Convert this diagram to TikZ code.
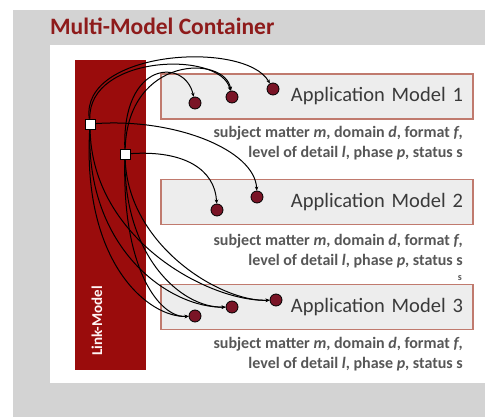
\documentclass[tikz,border=0pt]{standalone}
\usepackage{fontspec}
\setmainfont{Carlito}
\usetikzlibrary{arrows.meta}

\definecolor{framegrey}{HTML}{D3D3D3}
\definecolor{titlered}{HTML}{8E1B1B}
\definecolor{linkred}{HTML}{9A0C0C}
\definecolor{boxline}{HTML}{C07A6E}
\definecolor{boxfill}{HTML}{EDEDED}
\definecolor{dotred}{HTML}{7A1426}
\definecolor{desctext}{HTML}{3A3A3A}

\begin{document}
\begin{tikzpicture}[
		x=1pt,y=-1pt,
		appbox/.style={draw=boxline,line width=1.6pt,fill=boxfill,minimum width=312pt,minimum height=45pt,
			text width=292pt,align=right,inner sep=0pt,text=desctext,font=\fontsize{20.5}{24}\selectfont},
		desc/.style={anchor=east,align=right,text=desctext!85,inner sep=0pt,font=\bfseries\fontsize{16}{20}\selectfont},
		dot/.style={circle,draw=black,line width=0.8pt,fill=dotred,minimum size=12pt,inner sep=0pt},
		sq/.style={rectangle,draw=black,line width=0.8pt,fill=white,minimum size=10pt,inner sep=0pt},
		link/.style={draw=black,line width=1pt,-{Stealth[length=4pt,width=3.5pt]}}
	]
	\fill[white] (0,0) rectangle (485,417);
	\fill[framegrey] (13,10) rectangle (485,417);
	\fill[white] (50,45) rectangle (485,383);
	\node[anchor=base west,inner sep=0pt,text=titlered,font=\bfseries\fontsize{23.5}{28}\selectfont] (title) at (50,35) {Multi-Model Container};

	\node[fill=linkred,minimum width=71pt,minimum height=310pt,inner sep=0pt] (linkbar) at (110.5,215) {};
	\node[rotate=90,text=white!85!pink,font=\bfseries\fontsize{15}{18}\selectfont] (linklabel) at (97,321) {Link-Model};

	\node[appbox] (am1) at (317,96.5) {Application Model 1};
	\node[appbox] (am2) at (317,202) {Application Model 2};
	\node[appbox] (am3) at (317,307) {Application Model 3};
	\node[desc] (d1) at (463,143) {subject matter \textit{m}, domain \textit{d}, format \textit{f},\\level of detail \textit{l}, phase \textit{p}, status s};
	\node[desc] (d2) at (463,251) {subject matter \textit{m}, domain \textit{d}, format \textit{f},\\level of detail \textit{l}, phase \textit{p}, status s};
	\node[desc,font=\bfseries\fontsize{10}{10}\selectfont] (stray) at (462,278) {s};
	\node[desc] (d3) at (463,354) {subject matter \textit{m}, domain \textit{d}, format \textit{f},\\level of detail \textit{l}, phase \textit{p}, status s};

	\node[dot] (c11) at (195,103) {};
	\node[dot] (c12) at (232,97) {};
	\node[dot] (c13) at (273,89) {};
	\node[dot] (c21) at (217,210) {};
	\node[dot] (c22) at (257,197) {};
	\node[dot] (c31) at (195,316) {};
	\node[dot] (c32) at (232,307) {};
	\node[dot] (c33) at (276,300) {};

	\node[sq] (s1) at (90,124) {};
	\node[sq] (s2) at (125,154) {};

	\draw[link] (s1) .. controls (80,50) and (245,40) .. (c13);
	\draw[link] (s1) .. controls (88,55) and (220,50) .. (c12);
	\draw[link] (s2) .. controls (122,60) and (185,58) .. (c11);
	\draw[link] (s2) .. controls (128,55) and (225,55) .. (c12);
	\draw[link] (s1) .. controls (175,118) and (255,150) .. (c22);
	\draw[link] (s2) .. controls (185,150) and (215,170) .. (c21);
	\draw[link] (s1) .. controls (82,265) and (150,318) .. (c31);
	\draw[link] (s1) .. controls (86,250) and (170,308) .. (c32);
	\draw[link] (s1) .. controls (92,240) and (210,302) .. (c33);
	\draw[link] (s2) .. controls (122,270) and (160,318) .. (c31);
	\draw[link] (s2) .. controls (124,255) and (180,308) .. (c32);
	\draw[link] (s2) .. controls (128,245) and (220,302) .. (c33);

	\node[sq] at (s1) {};
	\node[sq] at (s2) {};
\end{tikzpicture}
\end{document}
